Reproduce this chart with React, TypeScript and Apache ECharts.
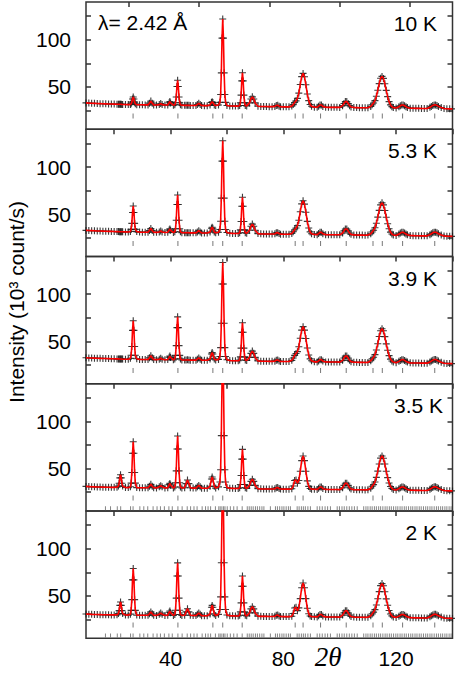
import React, { useEffect, useRef } from "react";
import * as echarts from "echarts";

// 2θ sampling grid (degrees)
const twoTheta = [
  10, 11, 12, 13, 14, 15, 16, 17, 18, 19, 20, 21, 21.5, 21.75, 22, 22.25, 22.5, 22.75, 23, 24,
  25, 25.75, 26, 26.25, 26.5, 26.75, 27, 27.25, 27.5, 28, 29, 30, 31, 32, 32.5, 33, 33.5, 34, 35, 36,
  36.5, 37, 38, 39, 39.5, 39.75, 40, 41, 41.5, 41.75, 42, 42.25, 42.5, 42.75, 43, 43.25, 43.5, 44, 45, 45.5,
  46, 46.5, 47, 48, 49, 49.5, 50, 50.5, 51, 52, 53, 54, 54.5, 54.75, 55, 55.5, 56, 57, 57.5, 57.75,
  58, 58.25, 58.5, 58.75, 59, 59.25, 59.5, 60, 61, 62, 63, 64, 64.5, 64.75, 65, 65.25, 65.5, 65.75, 66, 66.25,
  66.5, 67, 68, 68.5, 69, 69.5, 70, 71, 72, 73, 74, 75, 76, 77, 77.5, 78, 78.5, 79, 80, 81,
  82, 83, 83.5, 84, 84.5, 85, 85.5, 86, 86.5, 87, 87.5, 88, 88.5, 89, 89.5, 90, 91, 92, 92.5, 93,
  93.5, 94, 95, 96, 97, 98, 99, 100, 101, 101.5, 102, 102.5, 103, 103.5, 104, 105, 106, 107, 108, 109,
  110, 111, 111.5, 112, 112.5, 113, 113.5, 114, 114.5, 115, 115.5, 116, 116.5, 117, 117.5, 118, 118.5, 119, 120, 121,
  121.5, 122, 122.5, 123, 123.5, 124, 125, 126, 127, 128, 129, 130, 131, 132, 132.5, 133, 133.5, 134, 134.5, 135,
  136, 137, 138, 139, 140,
];

// Intensities (10^3 counts/s)
const i10K = [
  33.0, 32.8, 32.6, 32.5, 32.3, 32.2, 32.1, 32.0, 31.9, 31.8, 31.7, 31.6, 31.6, 31.5, 31.5, 31.5, 31.5, 31.4, 31.4, 31.3,
  31.2, 31.4, 32.0, 33.8, 37.2, 39.2, 37.2, 33.8, 32.0, 31.1, 31.0, 31.0, 30.9, 30.9, 32.7, 34.9, 32.7, 30.9, 30.8, 31.2,
  32.3, 31.2, 30.7, 30.8, 33.2, 34.5, 33.0, 30.6, 31.1, 33.2, 39.2, 50.4, 57.0, 50.4, 39.2, 33.2, 31.0, 30.5, 30.4, 30.4,
  30.5, 30.4, 30.3, 30.3, 30.3, 31.3, 32.6, 31.3, 30.2, 30.1, 30.1, 30.8, 33.4, 34.1, 33.4, 30.8, 30.2, 30.8, 33.6, 41.9,
  64.9, 101.7, 122.0, 101.7, 64.9, 41.9, 33.6, 30.2, 29.8, 29.7, 29.6, 29.6, 30.3, 33.1, 41.3, 56.3, 65.0, 56.3, 41.3, 33.1,
  30.2, 29.8, 33.0, 37.1, 39.4, 37.1, 33.0, 29.4, 29.2, 29.1, 29.1, 29.0, 29.0, 29.2, 30.3, 30.5, 29.5, 28.9, 28.8, 28.8,
  28.8, 29.6, 31.2, 33.4, 35.2, 37.8, 43.4, 52.5, 60.8, 64.3, 60.7, 52.2, 42.5, 35.4, 31.3, 29.4, 28.5, 28.4, 29.5, 30.8,
  30.8, 29.3, 28.4, 28.3, 28.3, 28.3, 28.3, 28.2, 30.1, 32.4, 34.4, 34.4, 32.4, 30.1, 28.7, 28.1, 28.0, 27.9, 27.9, 27.8,
  27.9, 29.3, 31.1, 32.9, 35.4, 40.0, 46.4, 53.4, 59.1, 61.1, 59.0, 53.3, 46.3, 39.6, 34.3, 30.9, 29.0, 28.0, 27.5, 29.0,
  30.0, 30.8, 30.8, 30.0, 29.0, 28.2, 27.4, 27.3, 27.2, 27.2, 27.1, 27.1, 27.1, 28.4, 29.3, 30.3, 30.9, 30.9, 30.3, 29.3,
  28.0, 27.0, 26.8, 26.7, 26.6,
];
const i53K = [
  32.8, 32.6, 32.5, 32.4, 32.2, 32.1, 32.0, 31.9, 31.8, 31.7, 31.6, 31.5, 31.5, 31.4, 31.4, 31.4, 31.4, 31.3, 31.3, 31.2,
  31.1, 31.7, 33.9, 40.2, 51.8, 58.6, 51.8, 40.2, 33.9, 31.5, 31.0, 30.9, 30.8, 30.9, 32.6, 34.8, 32.6, 30.8, 30.7, 31.1,
  32.2, 31.1, 30.6, 30.8, 33.1, 34.4, 32.9, 30.5, 31.3, 34.5, 43.6, 60.3, 70.3, 60.3, 43.6, 34.5, 31.3, 30.4, 30.3, 30.3,
  30.4, 30.3, 30.2, 30.2, 30.2, 31.2, 32.5, 31.2, 30.1, 30.0, 30.0, 31.1, 35.0, 36.1, 35.0, 31.1, 30.2, 30.8, 33.7, 42.5,
  67.0, 106.2, 127.8, 106.2, 67.0, 42.5, 33.7, 30.5, 29.8, 29.6, 29.5, 29.5, 30.3, 33.4, 42.2, 58.4, 68.0, 58.4, 42.2, 33.4,
  30.3, 29.8, 33.0, 37.2, 39.5, 37.2, 33.0, 29.4, 29.1, 29.0, 29.0, 28.9, 28.9, 29.1, 30.2, 30.4, 29.4, 28.8, 28.7, 28.7,
  28.7, 29.6, 31.3, 33.5, 35.3, 37.9, 43.5, 52.6, 60.9, 64.2, 60.6, 52.1, 42.4, 35.3, 31.2, 29.3, 28.4, 28.3, 29.4, 30.7,
  30.7, 29.2, 28.3, 28.2, 28.2, 28.2, 28.2, 28.1, 30.0, 32.3, 34.3, 34.3, 32.3, 30.0, 28.6, 28.0, 27.9, 27.8, 27.8, 27.7,
  27.8, 29.3, 31.1, 33.0, 35.6, 40.3, 46.8, 54.0, 59.9, 62.0, 59.8, 53.9, 46.7, 39.9, 34.5, 31.0, 29.0, 28.0, 27.4, 28.9,
  29.9, 30.7, 30.7, 29.9, 28.9, 28.1, 27.3, 27.2, 27.1, 27.1, 27.0, 27.0, 27.0, 28.3, 29.2, 30.2, 30.8, 30.8, 30.2, 29.2,
  27.9, 26.9, 26.7, 26.6, 26.5,
];
const i39K = [
  32.6, 32.4, 32.3, 32.2, 32.1, 32.0, 31.9, 31.8, 31.7, 31.6, 31.5, 31.4, 31.4, 31.4, 31.3, 31.3, 31.3, 31.2, 31.2, 31.1,
  31.0, 32.0, 35.3, 44.6, 61.7, 71.9, 61.7, 44.6, 35.3, 31.5, 30.9, 30.8, 30.7, 30.8, 32.5, 34.8, 32.5, 30.7, 30.6, 31.0,
  32.2, 31.0, 30.5, 30.7, 33.1, 34.4, 32.9, 30.4, 31.4, 35.1, 45.5, 64.6, 76.0, 64.6, 45.5, 35.1, 31.4, 30.3, 30.2, 30.2,
  30.4, 30.2, 30.1, 30.1, 30.1, 31.1, 32.4, 31.1, 30.0, 29.9, 29.9, 31.4, 36.6, 38.1, 36.6, 31.4, 30.3, 30.9, 34.0, 43.3,
  69.2, 110.8, 133.6, 110.8, 69.2, 43.3, 34.0, 30.5, 29.7, 29.5, 29.4, 29.4, 30.3, 33.5, 42.8, 59.7, 69.8, 59.7, 42.8, 33.5,
  30.3, 29.7, 33.0, 37.3, 39.7, 37.3, 33.0, 29.3, 29.0, 28.9, 28.9, 28.8, 28.8, 29.0, 30.1, 30.3, 29.3, 28.7, 28.6, 28.6,
  28.6, 29.9, 32.3, 35.2, 37.1, 39.1, 44.3, 53.3, 61.9, 65.6, 61.9, 53.0, 43.0, 35.6, 31.4, 29.4, 28.3, 28.2, 29.3, 30.6,
  30.6, 29.1, 28.2, 28.1, 28.1, 28.1, 28.1, 28.0, 29.9, 32.3, 34.4, 34.4, 32.3, 29.9, 28.5, 27.9, 27.8, 27.7, 27.7, 27.6,
  27.7, 29.4, 31.4, 33.2, 35.9, 40.9, 47.5, 55.1, 61.3, 63.4, 61.2, 55.0, 47.4, 40.6, 34.9, 31.2, 29.2, 28.1, 27.3, 28.8,
  29.8, 30.6, 30.6, 29.8, 28.8, 28.0, 27.2, 27.1, 27.0, 27.0, 26.9, 26.9, 26.9, 28.2, 29.1, 30.1, 30.7, 30.7, 30.1, 29.1,
  27.8, 26.8, 26.6, 26.5, 26.4,
];
const i35K = [
  31.2, 31.0, 30.8, 30.7, 30.6, 30.5, 30.4, 30.3, 30.3, 30.2, 30.2, 30.3, 31.5, 34.6, 40.2, 43.6, 40.2, 34.6, 31.5, 30.0,
  29.9, 30.8, 34.7, 45.9, 66.4, 78.6, 66.4, 45.9, 34.7, 29.9, 29.8, 29.8, 29.7, 29.7, 31.3, 33.4, 31.3, 29.7, 29.6, 30.9,
  32.0, 30.9, 29.6, 29.7, 33.1, 34.4, 32.7, 29.5, 30.6, 35.0, 47.7, 70.9, 84.7, 70.9, 47.7, 35.0, 30.6, 29.5, 29.8, 34.1,
  38.0, 34.1, 29.7, 29.4, 29.4, 30.8, 32.2, 30.8, 29.3, 29.2, 29.2, 31.3, 39.1, 41.2, 39.1, 31.3, 29.4, 30.7, 35.8, 48.9,
  85.1, 143.1, 175.0, 143.1, 85.1, 48.9, 35.8, 30.0, 29.2, 29.1, 29.0, 29.0, 29.8, 33.2, 42.7, 60.1, 70.5, 60.1, 42.7, 33.2,
  29.8, 29.1, 32.3, 36.5, 38.8, 36.5, 32.3, 28.8, 28.6, 28.5, 28.5, 28.4, 28.4, 28.6, 29.8, 30.0, 29.0, 28.4, 28.3, 28.3,
  28.3, 28.7, 31.6, 37.5, 38.1, 34.6, 37.5, 47.2, 58.5, 63.4, 58.5, 47.2, 37.0, 31.2, 28.9, 28.3, 28.1, 28.0, 29.2, 30.6,
  30.6, 29.0, 28.0, 27.9, 27.9, 27.9, 27.9, 27.8, 29.8, 32.3, 34.5, 34.5, 32.3, 29.8, 28.4, 27.8, 27.7, 27.6, 27.6, 27.5,
  27.6, 29.2, 31.3, 33.1, 35.8, 40.8, 47.4, 55.0, 61.2, 63.4, 61.1, 54.9, 47.3, 40.5, 34.8, 31.1, 29.1, 28.0, 27.3, 28.8,
  29.8, 30.6, 30.6, 29.8, 28.8, 28.0, 27.2, 27.1, 27.0, 27.0, 26.9, 26.9, 26.9, 28.2, 29.1, 30.1, 30.7, 30.7, 30.1, 29.1,
  27.8, 26.8, 26.6, 26.5, 26.4,
];
const i2K = [
  30.8, 30.6, 30.4, 30.3, 30.2, 30.1, 30.0, 29.9, 29.9, 29.8, 29.8, 29.9, 31.2, 34.3, 39.9, 43.5, 39.9, 34.3, 31.2, 29.7,
  29.6, 30.6, 34.6, 46.0, 66.9, 79.0, 66.9, 46.0, 34.6, 29.6, 29.5, 29.5, 29.4, 29.4, 31.0, 33.0, 31.0, 29.4, 29.3, 30.6,
  31.8, 30.6, 29.3, 29.4, 32.6, 33.9, 32.2, 29.2, 30.3, 34.8, 47.6, 71.0, 85.0, 71.0, 47.6, 34.8, 30.3, 29.2, 29.5, 33.0,
  36.4, 33.0, 29.4, 29.1, 29.1, 30.4, 31.7, 30.4, 29.0, 28.9, 28.9, 30.8, 37.9, 39.9, 37.9, 30.8, 29.1, 30.4, 35.5, 48.9,
  85.1, 143.1, 175.0, 143.1, 85.1, 48.9, 35.5, 29.7, 28.9, 28.8, 28.7, 28.7, 29.5, 33.0, 42.6, 60.2, 71.0, 60.2, 42.6, 33.0,
  29.5, 28.8, 31.9, 36.2, 38.5, 36.2, 31.9, 28.5, 28.3, 28.2, 28.2, 28.1, 28.1, 28.3, 29.4, 29.6, 28.7, 28.1, 28.0, 28.0,
  28.0, 28.4, 31.3, 37.2, 37.9, 34.3, 37.3, 47.1, 58.6, 63.7, 58.6, 47.1, 36.8, 31.0, 28.6, 28.0, 27.8, 27.7, 28.9, 30.3,
  30.3, 28.7, 27.7, 27.6, 27.6, 27.6, 27.6, 27.5, 29.6, 32.0, 34.2, 34.2, 32.0, 29.6, 28.1, 27.5, 27.4, 27.3, 27.3, 27.2,
  27.3, 28.9, 30.9, 32.8, 35.4, 40.3, 46.9, 54.5, 60.8, 63.0, 60.7, 54.4, 46.8, 40.1, 34.5, 30.8, 28.8, 27.7, 27.0, 28.5,
  29.5, 30.3, 30.3, 29.5, 28.5, 27.7, 26.9, 26.8, 26.7, 26.7, 26.6, 26.6, 26.6, 27.9, 28.8, 29.8, 30.4, 30.4, 29.8, 28.8,
  27.5, 26.5, 26.3, 26.2, 26.1,
];

// Bragg reflection positions
const nuclearPeaks = [26.7, 42.6, 55.0, 58.5, 65.4, 84.2, 87.0, 93.2, 102.3, 111.8, 115.1, 122.3, 133.7];
const magneticPeaks = [
  16.9, 18.7, 21.1, 22.3, 25.8, 26.7, 29.1, 30.5, 31.9, 33.8, 35.2, 36.4, 37.8, 39.4, 40.6, 42.6, 44.1, 45.9, 47.1,
  48.3, 49.4, 51.2, 52.4, 53.3, 54.2, 55.9, 57.1, 57.6, 58.2, 58.8, 59.3, 60.1, 61.2, 62.4, 63.6, 65.4, 67.2, 67.9,
  68.6, 69.3, 70.1, 70.8, 71.6, 72.4, 73.1, 75.4, 77.2, 77.9, 78.7, 79.5, 80.2, 81.0, 81.8, 82.5, 84.9, 85.6, 86.4,
  87.1, 87.8, 88.7, 89.6, 92.0, 92.9, 93.8, 94.8, 95.7, 96.7, 99.1, 99.9, 100.8, 101.6, 102.5, 103.4, 104.3, 105.2,
  106.2, 108.5, 109.3, 110.0, 110.8, 111.5, 112.3, 113.0, 113.8, 114.5, 115.3, 116.1, 116.8, 117.6, 118.3, 119.1,
  119.9, 120.6, 121.4, 122.1, 122.9, 123.6, 124.4, 125.2, 125.9, 126.7, 127.4, 128.2, 128.9, 129.7, 130.5, 131.2,
  132.0, 132.7, 133.5, 134.3, 135.0, 135.8, 136.5, 137.3, 138.0, 138.8, 139.5,
];

const panelLabels = ["10 K", "5.3 K", "3.9 K", "3.5 K", "2 K"];
const xTickValues = [20, 40, 60, 80, 100, 120, 140];
const xTickValuesTop = [25, 50, 75, 100, 125];
const xLabelValues = [40, 80, 120];
const yTickValues = [25, 50, 75, 100, 125];
const yLabelValues = [50, 100];

const FONT = "'Liberation Sans', Arial, Helvetica, sans-serif";

export default function App() {
  const ref = useRef<HTMLDivElement>(null);

  useEffect(() => {
    if (!ref.current) return;
    const chart = echarts.init(ref.current, undefined, { renderer: "svg" });

    const tops = [2, 129.3, 256.5, 383.8, 511];
    const H = 127.3;
    const left = 86;
    const width = 366.5;
    const datasets = [i10K, i53K, i39K, i35K, i2K];
    const hasMagnetic = [false, false, false, true, true];
    const labelRight = [437, 437, 437, 443, 437];
    const plus = "path://M4.2,0H5.8V4.2H10V5.8H5.8V10H4.2V5.8H0V4.2H4.2Z";
    const tickStyle = { color: "#333", width: 1.5 };

    const grid: any[] = [];
    const xAxis: any[] = [];
    const yAxis: any[] = [];
    const series: any[] = [];
    const graphic: any[] = [];

    datasets.forEach((vals, k) => {
      grid.push({
        left,
        width,
        top: tops[k],
        height: H,
        show: true,
        borderColor: "#333",
        borderWidth: 1.5,
        backgroundColor: "transparent",
      });
      xAxis.push({
        type: "value",
        gridIndex: k,
        min: 10,
        max: 140,
        position: "bottom",
        axisLine: { show: false },
        splitLine: { show: false },
        axisTick: { show: false },
        axisLabel:
          k === 4
            ? { show: true, customValues: xLabelValues, margin: 10, fontSize: 21, color: "#000", fontFamily: FONT }
            : { show: false },
      });
      xAxis.push({
        type: "value",
        gridIndex: k,
        min: 10,
        max: 140,
        position: "top",
        axisLine: { show: false },
        splitLine: { show: false },
        axisTick: {
          show: true,
          inside: true,
          length: 5,
          customValues: k === 0 ? xTickValuesTop : xTickValues,
          lineStyle: tickStyle,
        },
        axisLabel: { show: false },
      });
      yAxis.push({
        type: "value",
        gridIndex: k,
        min: 5,
        max: 140,
        position: "left",
        axisLine: { show: false },
        splitLine: { show: false },
        axisTick: { show: true, inside: true, length: 5, customValues: yTickValues, lineStyle: tickStyle },
        axisLabel: { show: true, customValues: yLabelValues, margin: 15, fontSize: 21, color: "#000", fontFamily: FONT },
      });
      yAxis.push({
        type: "value",
        gridIndex: k,
        min: 5,
        max: 140,
        position: "right",
        axisLine: { show: false },
        splitLine: { show: false },
        axisTick: { show: true, inside: true, length: 5, customValues: yTickValues, lineStyle: tickStyle },
        axisLabel: { show: false },
      });

      const pts = twoTheta.map((x, i) => [x, vals[i]]);
      series.push({
        type: "scatter",
        xAxisIndex: 2 * k,
        yAxisIndex: 2 * k,
        data: pts,
        symbol: plus,
        symbolSize: 7,
        itemStyle: { color: "#1a1a1a", opacity: 0.85 },
        clip: true,
        silent: true,
        z: 2,
      });
      series.push({
        type: "line",
        xAxisIndex: 2 * k,
        yAxisIndex: 2 * k,
        data: pts,
        showSymbol: false,
        symbol: "none",
        lineStyle: { color: "#ff0000", width: 1.6 },
        clip: true,
        silent: true,
        z: 3,
      });
      series.push({
        type: "scatter",
        xAxisIndex: 2 * k,
        yAxisIndex: 2 * k,
        data: nuclearPeaks.map((x) => [x, 19]),
        symbol: "rect",
        symbolSize: [1, 5],
        itemStyle: { color: "#555" },
        silent: true,
        z: 2,
      });
      if (hasMagnetic[k]) {
        series.push({
          type: "scatter",
          xAxisIndex: 2 * k,
          yAxisIndex: 2 * k,
          data: magneticPeaks.map((x) => [x, 8]),
          symbol: "rect",
          symbolSize: [1, 4],
          itemStyle: { color: "#666" },
          silent: true,
          z: 2,
        });
      }
      graphic.push({
        type: "text",
        right: 455 - labelRight[k],
        top: tops[k] + 11,
        style: { text: panelLabels[k], fontSize: 21, fontFamily: FONT, fill: "#000" },
      });
    });

    graphic.push({
      type: "text",
      left: 98,
      top: 12,
      style: { text: "λ= 2.42 Å", fontSize: 21, fontFamily: FONT, fill: "#000" },
    });
    graphic.push({
      type: "text",
      x: 16,
      y: 302,
      rotation: Math.PI / 2,
      style: {
        text: "Intensity (10³ count/s)",
        fontSize: 21,
        fontFamily: FONT,
        fill: "#000",
        align: "center",
        verticalAlign: "middle",
      },
    });
    graphic.push({
      type: "text",
      x: 328,
      y: 657,
      style: {
        text: "2θ",
        fontSize: 27,
        fontStyle: "italic",
        fontFamily: "'Liberation Serif', 'Times New Roman', serif",
        fill: "#000",
        align: "center",
        verticalAlign: "middle",
      },
    });

    chart.setOption({
      animation: false,
      backgroundColor: "#fff",
      grid,
      xAxis,
      yAxis,
      series,
      graphic,
    });

    return () => chart.dispose();
  }, []);

  return (
    <div
      ref={ref}
      style={{ position: "fixed", left: 0, top: 0, width: 455, height: 673 }}
    />
  );
}
